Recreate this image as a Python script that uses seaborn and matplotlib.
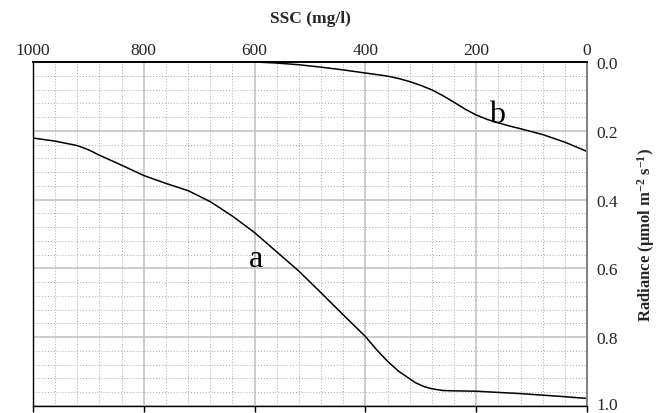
import matplotlib
matplotlib.use("Agg")
import matplotlib.pyplot as plt
from matplotlib.ticker import MultipleLocator, FormatStrFormatter
from matplotlib.transforms import ScaledTranslation
import pandas as pd
import seaborn as sns

# Curve a: radiance vs suspended sediment concentration
ssc_a = [1000, 960, 920, 900, 880, 840, 800, 760, 720, 680, 640, 600, 560, 520,
         480, 440, 400, 380, 360, 340, 320, 310, 295, 280, 260, 240, 200, 120, 40, 0]
rad_a = [0.221, 0.230, 0.243, 0.255, 0.271, 0.300, 0.330, 0.353, 0.374, 0.406,
         0.448, 0.496, 0.552, 0.608, 0.671, 0.735, 0.798, 0.836, 0.870, 0.899,
         0.921, 0.932, 0.943, 0.950, 0.955, 0.956, 0.957, 0.964, 0.973, 0.978]

# Curve b
ssc_b = [600, 560, 520, 480, 440, 400, 360, 340, 320, 300, 280, 260, 240, 220,
         200, 180, 160, 140, 120, 80, 40, 0]
rad_b = [0.0, 0.003, 0.008, 0.015, 0.023, 0.032, 0.041, 0.048, 0.057, 0.068,
         0.081, 0.098, 0.117, 0.137, 0.154, 0.167, 0.177, 0.186, 0.194, 0.211,
         0.233, 0.260]

x_ticks = [1000, 800, 600, 400, 200, 0]
y_ticks = [0.0, 0.2, 0.4, 0.6, 0.8, 1.0]

# Curve labels: (text, ssc, radiance at baseline)
curve_labels = [("a", 597, 0.594), ("b", 162, 0.174)]

sns.set_theme(style="white")
plt.rcParams["font.family"] = ["Liberation Serif", "DejaVu Serif"]
plt.rcParams["mathtext.fontset"] = "custom"
plt.rcParams["mathtext.rm"] = "Liberation Serif:bold"
plt.rcParams["mathtext.bf"] = "Liberation Serif:bold"
plt.rcParams["mathtext.default"] = "bf"

df = pd.concat([
    pd.DataFrame({"SSC": ssc_a, "Radiance": rad_a, "curve": "a"}),
    pd.DataFrame({"SSC": ssc_b, "Radiance": rad_b, "curve": "b"}),
])

fig = plt.figure(figsize=(6.64, 4.14), dpi=100)
ax = fig.add_axes([33 / 664, 1 - 407 / 414, 554 / 664, 344 / 414])

sns.lineplot(data=df, x="SSC", y="Radiance", units="curve", estimator=None,
             color="black", linewidth=1.1, ax=ax, legend=False)

ax.set_xlim(1000, 0)
ax.set_ylim(1.0, 0.0)
ax.set_xticks(x_ticks)
ax.set_yticks(y_ticks)
ax.xaxis.set_minor_locator(MultipleLocator(40))
ax.yaxis.set_minor_locator(MultipleLocator(0.04))
ax.yaxis.set_major_formatter(FormatStrFormatter("%.1f"))

ax.set_axisbelow(True)
ax.grid(which="minor", color="#a8a8a8", linestyle=(0, (1, 2)), linewidth=0.7)
ax.grid(which="major", color="#c4c4c4", linestyle="-", linewidth=1.2)

# x axis: labels on top, tick marks at the bottom
ax.xaxis.set_label_position("top")
ax.tick_params(axis="x", which="major", top=False, bottom=True, labeltop=True,
               labelbottom=False, direction="out", length=4, width=1,
               color="black", pad=-0.8, labelsize=12.5)
ax.tick_params(axis="x", which="minor", top=False, bottom=False)
# y axis: labels on the right, no tick marks
ax.yaxis.set_label_position("right")
ax.tick_params(axis="y", which="both", left=False, right=False, labelleft=False,
               labelright=True, length=0, pad=7, labelsize=12.5)

ax.set_xlabel("SSC (mg/l)", fontsize=12.5, fontweight="bold", labelpad=14)
ax.set_ylabel("Radiance (µmol m$^{-2}$ s$^{-1}$)", fontsize=12,
              fontweight="bold", labelpad=12)

for side in ["left", "top", "bottom"]:
    ax.spines[side].set_color("black")
    ax.spines[side].set_linewidth(1.0)
ax.spines["top"].set_linewidth(1.4)
ax.spines["right"].set_color("#808080")
ax.spines["right"].set_linewidth(1.4)

for txt, xv, yv in curve_labels:
    ax.text(xv, yv, txt, fontsize=23, ha="center", va="baseline", color="black")

# keep the lowest y label inside the figure edge
fig.canvas.draw()
last = ax.yaxis.get_majorticklabels()[-1]
last.set_transform(last.get_transform()
                   + ScaledTranslation(0, 2.5 / 72, fig.dpi_scale_trans))

fig.savefig("out.png", dpi=100)
